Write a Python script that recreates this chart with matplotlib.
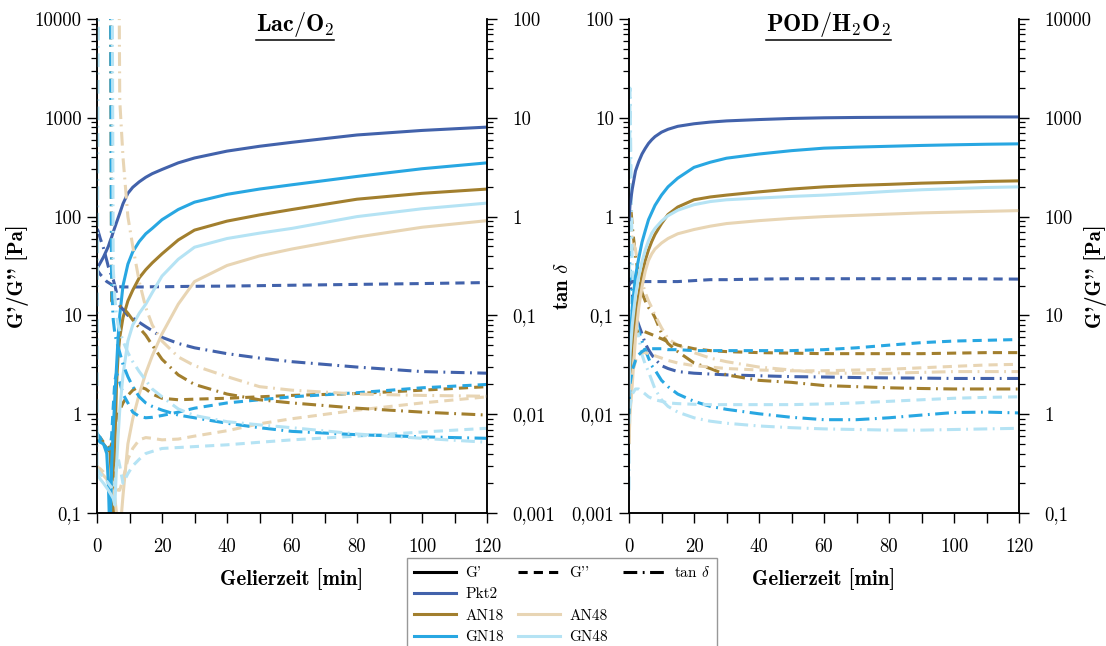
import numpy as np
import matplotlib
matplotlib.use('Agg')
import matplotlib.pyplot as plt
from matplotlib.lines import Line2D
from matplotlib.ticker import FixedLocator, LogLocator, NullFormatter, MultipleLocator

plt.rcParams['font.family'] = 'cmr10'
plt.rcParams['mathtext.fontset'] = 'cm'
plt.rcParams['axes.unicode_minus'] = False

samples = ['Pkt2', 'AN18', 'AN48', 'GN18', 'GN48']
colours = {'Pkt2': '#4262ab', 'AN18': '#a27f2e', 'AN48': '#e8d5b4',
           'GN18': '#28a7e2', 'GN48': '#b5e3f4'}

# ---- Lac/O2 (left panel) ----
t_lac = [0, 0.3, 1, 2, 3, 3.5, 4, 4.5, 5, 5.5, 6, 6.5, 7, 8, 9.5, 11, 13, 15, 17, 20, 25, 30, 40, 50, 60, 80, 100, 120]

lac_gp_pkt2 = [30, 31, 34, 39, 46, 50, 56, 62, 70, 78, 87, 97, 108, 135, 172, 198, 225, 250, 272, 300, 350, 392, 460, 515, 565, 670, 745, 805]
lac_gp_an18 = [0.6, 0.6, 0.55, 0.5, 0.45, 0.43, 0.42, 0.2, 0.08, 0.5, 2, 4, 6, 9.5, 14, 18, 24, 29, 34, 42, 58, 73, 90, 104, 118, 150, 172, 190]
lac_gp_an48 = [0.3, 0.28, 0.26, 0.24, 0.22, 0.2, 0.19, 0.18, 0.16, 0.14, 0.1, 0.07, 0.06, 0.15, 0.5, 0.9, 1.6, 2.6, 3.9, 6.5, 13, 22, 32, 40, 47, 62, 78, 91]
lac_gp_gn18 = [0.55, 0.55, 0.52, 0.5, 0.4, 0.2, 0.05, 0.3, 0.7, 1.5, 3, 6, 10, 20, 33, 44, 56, 67, 76, 93, 118, 140, 168, 190, 210, 255, 305, 350]
lac_gp_gn48 = [0.25, 0.24, 0.22, 0.2, 0.18, 0.17, 0.16, 0.15, 0.14, 0.12, 0.3, 0.6, 1.1, 2.5, 5.5, 8, 10.5, 13, 17, 25, 37, 49, 60, 68, 76, 100, 120, 137]

lac_gpp_pkt2 = [30, 28, 26, 24, 22, 21.5, 21, 20.5, 20, 19.8, 19.6, 19.5, 19.5, 19.4, 19.4, 19.4, 19.4, 19.4, 19.5, 19.5, 19.6, 19.7, 19.8, 20, 20.2, 20.6, 21, 21.5]
lac_gpp_an18 = [0.6, 0.6, 0.58, 0.52, 0.48, 0.46, 0.45, 0.5, 0.6, 0.75, 0.9, 1.0, 1.1, 1.3, 1.55, 1.75, 1.9, 1.8, 1.6, 1.45, 1.4, 1.42, 1.45, 1.5, 1.55, 1.62, 1.75, 1.9]
lac_gpp_an48 = [0.3, 0.29, 0.28, 0.26, 0.24, 0.23, 0.22, 0.21, 0.2, 0.19, 0.18, 0.17, 0.17, 0.22, 0.35, 0.45, 0.55, 0.58, 0.57, 0.55, 0.56, 0.6, 0.68, 0.8, 0.9, 1.1, 1.3, 1.5]
lac_gpp_gn18 = [0.65, 0.62, 0.58, 0.5, 0.45, 0.44, 0.45, 0.6, 1.2, 2.2, 2.6, 2.4, 2.1, 1.6, 1.3, 1.05, 0.95, 0.92, 0.93, 0.97, 1.05, 1.15, 1.3, 1.4, 1.5, 1.65, 1.85, 2.0]
lac_gpp_gn48 = [0.28, 0.27, 0.25, 0.23, 0.21, 0.2, 0.19, 0.18, 0.17, 0.2, 0.3, 0.36, 0.3, 0.2, 0.25, 0.3, 0.35, 0.4, 0.42, 0.45, 0.46, 0.47, 0.49, 0.52, 0.55, 0.6, 0.66, 0.72]

lac_tan_pkt2 = [0.75, 0.72, 0.6, 0.48, 0.36, 0.31, 0.28, 0.25, 0.23, 0.2, 0.17, 0.145, 0.125, 0.115, 0.1, 0.094, 0.085, 0.077, 0.07, 0.06, 0.052, 0.047, 0.041, 0.037, 0.034, 0.03, 0.027, 0.026]
lac_tan_an18 = [1e4, 1e4, 1e4, 1e4, 1e4, 1e4, 1e4, 0.14, 0.14, 0.135, 0.13, 0.128, 0.125, 0.12, 0.105, 0.09, 0.075, 0.063, 0.05, 0.036, 0.025, 0.02, 0.016, 0.014, 0.013, 0.0115, 0.0105, 0.0098]
lac_tan_an48 = [1e4, 1e4, 1e4, 1e4, 1e4, 1e4, 1e4, 1e4, 1e4, 1e4, 1e4, 1e4, 15, 4, 1.0, 0.5, 0.22, 0.12, 0.08, 0.055, 0.038, 0.031, 0.024, 0.019, 0.0175, 0.016, 0.0155, 0.0152]
lac_tan_gn18 = [1e4, 1e4, 1e4, 1e4, 1e4, 1e4, 1e4, 0.2, 0.09, 0.065, 0.055, 0.048, 0.042, 0.032, 0.024, 0.019, 0.015, 0.013, 0.012, 0.011, 0.0098, 0.0092, 0.0081, 0.0073, 0.0067, 0.0062, 0.0059, 0.0057]
lac_tan_gn48 = [0.003, 30, 1e4, 1e4, 1e4, 1e4, 1e4, 1e4, 0.3, 0.15, 0.1, 0.08, 0.07, 0.055, 0.042, 0.034, 0.027, 0.022, 0.018, 0.015, 0.0113, 0.0097, 0.0084, 0.0078, 0.0073, 0.0063, 0.0057, 0.0052]

# ---- POD/H2O2 (right panel) ----
t_pod = [0, 0.3, 1, 2, 3, 4, 5, 6, 7, 8, 10, 12, 15, 20, 25, 30, 40, 50, 60, 70, 80, 90, 100, 110, 120]

pod_gp_pkt2 = [90, 130, 190, 290, 360, 430, 490, 550, 600, 645, 715, 765, 820, 870, 905, 930, 960, 985, 1000, 1008, 1012, 1015, 1018, 1020, 1020]
pod_gp_an18 = [1, 2.5, 5, 10, 16, 25, 36, 46, 56, 66, 85, 105, 125, 148, 158, 165, 178, 190, 200, 207, 212, 218, 222, 227, 230]
pod_gp_an48 = [0.5, 1, 2, 6, 12, 19.5, 28, 36, 42, 47, 54, 60, 67, 74, 80, 85, 91, 96, 100, 103, 106, 109, 111, 113, 115]
pod_gp_gn18 = [2, 5, 12, 25, 38, 55, 72, 93, 110, 130, 165, 200, 245, 315, 355, 390, 430, 465, 493, 505, 515, 525, 533, 540, 545]
pod_gp_gn48 = [1.5, 4, 8, 16, 25, 35, 46, 57, 68, 76, 90, 102, 116, 132, 142, 148, 154, 160, 165, 172, 180, 187, 192, 197, 200]

pod_gpp_pkt2 = [20, 21, 22, 22, 22, 22, 22, 22, 22, 22, 22, 22, 22, 22.5, 23, 23, 23.3, 23.5, 23.5, 23.5, 23.5, 23.5, 23.5, 23.4, 23.3]
pod_gpp_an18 = [3, 4.5, 6, 6.8, 7, 7, 6.8, 6.6, 6.4, 6.2, 5.8, 5.4, 5.0, 4.6, 4.4, 4.3, 4.2, 4.15, 4.1, 4.1, 4.1, 4.1, 4.15, 4.2, 4.2]
pod_gpp_an48 = [0.5, 1.2, 2.5, 3.5, 4, 4.2, 4.2, 4.1, 4.0, 3.9, 3.7, 3.5, 3.3, 3.1, 3.0, 2.9, 2.8, 2.75, 2.75, 2.8, 2.85, 2.95, 3.05, 3.15, 3.2]
pod_gpp_gn18 = [1.0, 2.0, 2.8, 3.5, 4.0, 4.3, 4.5, 4.6, 4.6, 4.6, 4.6, 4.5, 4.5, 4.4, 4.4, 4.4, 4.4, 4.4, 4.5, 4.7, 5.0, 5.3, 5.5, 5.6, 5.7]
pod_gpp_gn48 = [0.8, 1.2, 1.6, 1.8, 1.8, 1.7, 1.6, 1.5, 1.45, 1.4, 1.35, 1.3, 1.28, 1.26, 1.25, 1.25, 1.25, 1.25, 1.27, 1.3, 1.35, 1.4, 1.45, 1.48, 1.5]

pod_tan_pkt2 = [0.3, 0.22, 0.14, 0.1, 0.08, 0.065, 0.052, 0.045, 0.04, 0.036, 0.031, 0.029, 0.027, 0.026, 0.0255, 0.025, 0.0245, 0.024, 0.0238, 0.0235, 0.0233, 0.0232, 0.023, 0.023, 0.023]
pod_tan_an18 = [4, 1.6, 0.8, 0.4, 0.25, 0.17, 0.14, 0.12, 0.11, 0.095, 0.066, 0.052, 0.043, 0.033, 0.029, 0.025, 0.022, 0.021, 0.0195, 0.019, 0.0185, 0.0182, 0.018, 0.018, 0.018]
pod_tan_an48 = [1.0, 0.8, 0.6, 0.46, 0.3, 0.22, 0.17, 0.14, 0.12, 0.1, 0.075, 0.058, 0.05, 0.042, 0.037, 0.034, 0.03, 0.028, 0.026, 0.026, 0.026, 0.0265, 0.027, 0.027, 0.027]
pod_tan_gn18 = [1.0, 0.3, 0.15, 0.1, 0.07, 0.055, 0.045, 0.037, 0.031, 0.028, 0.022, 0.019, 0.016, 0.0135, 0.012, 0.0112, 0.0101, 0.0093, 0.0088, 0.0088, 0.0092, 0.0098, 0.0104, 0.0105, 0.0103]
pod_tan_gn48 = [0.0017, 20, 0.3, 0.1, 0.06, 0.04, 0.032, 0.027, 0.022, 0.018, 0.014, 0.012, 0.0105, 0.0092, 0.0085, 0.0081, 0.0076, 0.0073, 0.0071, 0.007, 0.0069, 0.0069, 0.007, 0.0071, 0.0072]

lac = {'gp': [lac_gp_pkt2, lac_gp_an18, lac_gp_an48, lac_gp_gn18, lac_gp_gn48],
       'gpp': [lac_gpp_pkt2, lac_gpp_an18, lac_gpp_an48, lac_gpp_gn18, lac_gpp_gn48],
       'tan': [lac_tan_pkt2, lac_tan_an18, lac_tan_an48, lac_tan_gn18, lac_tan_gn48]}
pod = {'gp': [pod_gp_pkt2, pod_gp_an18, pod_gp_an48, pod_gp_gn18, pod_gp_gn48],
       'gpp': [pod_gpp_pkt2, pod_gpp_an18, pod_gpp_an48, pod_gpp_gn18, pod_gpp_gn48],
       'tan': [pod_tan_pkt2, pod_tan_an18, pod_tan_an48, pod_tan_gn18, pod_tan_gn48]}

g_labels = ['0,1', '1', '10', '100', '1000', '10000']
tan_labels = ['0,001', '0,01', '0,1', '1', '10', '100']

LW = 2.2
DASH = (3, 2)
DASHDOT = (4.5, 1.8, 0.6, 1.8)
TICKFS = 13.5
LABELFS = 15


def style_log(ax, side, lo, labels):
    ax.set_yscale('log')
    ax.set_ylim(10.0 ** lo, 10.0 ** (lo + 5))
    ax.yaxis.set_major_locator(FixedLocator(10.0 ** np.arange(lo, lo + 6)))
    ax.yaxis.set_minor_locator(LogLocator(base=10, subs=np.arange(2, 10), numticks=20))
    ax.yaxis.set_minor_formatter(NullFormatter())
    ax.set_yticklabels(labels)
    ax.tick_params(axis='y', which='major', length=7, width=1, direction='out', labelsize=TICKFS,
                   pad=4 if side == 'left' else 11)
    ax.tick_params(axis='y', which='minor', length=4.5, width=0.9, direction='out')
    if side == 'right':
        ax.yaxis.tick_right()


def draw(ax_g, ax_t, t, data):
    for i, s in enumerate(samples):
        c = colours[s]
        ax_g.plot(t, data['gp'][i], color=c, lw=LW, solid_capstyle='butt')
        ax_g.plot(t, data['gpp'][i], color=c, lw=LW, dashes=DASH)
        ax_t.plot(t, data['tan'][i], color=c, lw=LW, dashes=DASHDOT)


fig = plt.figure(figsize=(11.06, 6.46), dpi=100)
axL = fig.add_axes([97 / 1106, 1 - 513 / 646, 390 / 1106, 494 / 646])
axR = fig.add_axes([629 / 1106, 1 - 513 / 646, 390 / 1106, 494 / 646])
axL2 = axL.twinx()
axR2 = axR.twinx()

# left: G on left axis, tan d on right axis
style_log(axL, 'left', -1, g_labels)
style_log(axL2, 'right', -3, tan_labels)
draw(axL, axL2, t_lac, lac)
# right: tan d on left axis, G on right axis
style_log(axR, 'left', -3, tan_labels)
style_log(axR2, 'right', -1, g_labels)
draw(axR2, axR, t_pod, pod)

for ax in (axL, axR, axL2, axR2):
    ax.set_xlim(0, 120)
    ax.spines['top'].set_visible(False)
    for sp in ax.spines.values():
        sp.set_linewidth(1.1)
for ax in (axL, axR):
    ax.xaxis.set_major_locator(MultipleLocator(20))
    ax.xaxis.set_minor_locator(MultipleLocator(10))
    ax.tick_params(axis='x', which='both', length=7, width=1, direction='out', labelsize=TICKFS, pad=11)
    ax.set_xlabel('Gelierzeit [min]', fontfamily='cmb10', fontsize=LABELFS)
    ax.xaxis.set_label_coords(0.5, -0.111)

axL.set_ylabel("G'/G'' [Pa]", fontfamily='cmb10', fontsize=LABELFS)
axL.yaxis.set_label_coords(-0.174, 0.48)
axR.set_ylabel(r'tan $\delta$', fontfamily='cmb10', fontsize=LABELFS)
axR.yaxis.set_label_coords(-0.147, 0.46)
axR2.set_ylabel("G'/G'' [Pa]", fontfamily='cmb10', fontsize=LABELFS)
axR2.yaxis.set_label_coords(1.166, 0.48)

titles = [(axL, r'$\mathbf{Lac/O_2}$', 0.508), (axR, r'$\mathbf{POD/H_2O_2}$', 0.512)]
title_txts = []
for ax, txt, xc in titles:
    title_txts.append(ax.text(xc, 1.019, txt, transform=ax.transAxes, ha='center', va='top', fontsize=17.5))

# legend
h_blank = Line2D([], [], color='none')
handles = [Line2D([], [], color='black', lw=LW),
           Line2D([], [], color=colours['Pkt2'], lw=LW),
           Line2D([], [], color=colours['AN18'], lw=LW),
           Line2D([], [], color=colours['GN18'], lw=LW),
           Line2D([], [], color='black', lw=LW, dashes=DASH),
           h_blank,
           Line2D([], [], color=colours['AN48'], lw=LW),
           Line2D([], [], color=colours['GN48'], lw=LW),
           Line2D([], [], color='black', lw=LW, dashes=DASHDOT),
           h_blank, h_blank, h_blank]
labels = ["G'", 'Pkt2', 'AN18', 'GN18', "G''", '', 'AN48', 'GN48', r'tan $\delta$', '', '', '']
leg = fig.legend(handles, labels, ncol=3, loc='upper left',
                 bbox_to_anchor=(407 / 1106, 1 - 558 / 646), bbox_transform=fig.transFigure,
                 fontsize=11, frameon=True, fancybox=False, edgecolor='#7f7f7f',
                 handlelength=2.75, handletextpad=0.6, columnspacing=0.95,
                 labelspacing=0.5, borderpad=0.45, borderaxespad=0)
leg.get_frame().set_linewidth(1.0)

# underline the titles
fig.canvas.draw()
r = fig.canvas.get_renderer()
for tt in title_txts:
    bb = tt.get_window_extent(r)
    y = bb.y0 - 1
    fig.add_artist(Line2D([bb.x0 / 1106, bb.x1 / 1106], [y / 646, y / 646], color='black', lw=1.1,
                          transform=fig.transFigure))

fig.savefig('out.png', dpi=100)
